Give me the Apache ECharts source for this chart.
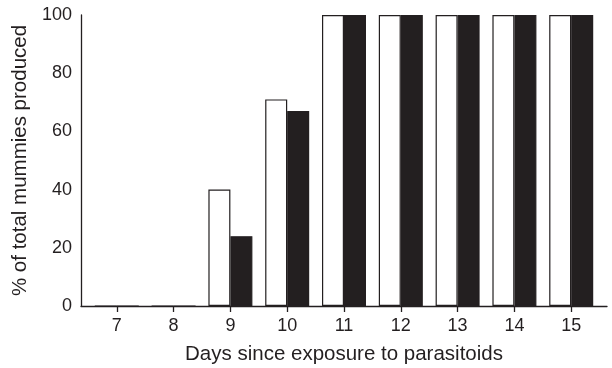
<!DOCTYPE html>
<html>
<head>
<meta charset="utf-8">
<script src="https://cdn.jsdelivr.net/npm/echarts@6/dist/echarts.min.js"></script>
<style>
  html, body { margin: 0; padding: 0; background: #fff; }
  #chart { width: 612px; height: 368px; }
</style>
</head>
<body>
<div id="chart"></div>
<script>
// days since exposure, and % of total mummies produced for the two treatments
var days = [7, 8, 9, 10, 11, 12, 13, 14, 15];
var whiteBars = [0, 0, 40, 71, 100, 100, 100, 100, 100];
var blackBars = [0, 0, 24, 67, 100, 100, 100, 100, 100];
var yTicks = [0, 20, 40, 60, 80, 100];

var font = 'Liberation Sans, Arial, sans-serif';
var ink = '#231f20';

var chart = echarts.init(document.getElementById('chart'));

var s1 = [];
var s2 = [];
for (var i = 0; i < days.length; i++) {
  s1.push([days[i], whiteBars[i]]);
  s2.push([days[i], blackBars[i]]);
}

var option = {
  animation: false,
  grid: { left: 81, right: 5, top: 15, bottom: 62, outerBoundsMode: 'none' },
  xAxis: {
    type: 'value',
    min: 6.37,
    max: 15.63,
    splitLine: { show: false },
    axisLine: { show: true, lineStyle: { color: ink, width: 1.3 } },
    axisTick: { show: true, customValues: days, length: 6, lineStyle: { color: ink, width: 1.3 } },
    axisLabel: { customValues: days, color: ink, fontSize: 18, fontFamily: font, margin: 11 },
    name: 'Days since exposure to parasitoids',
    nameLocation: 'middle',
    nameGap: 38,
    nameTextStyle: { color: ink, fontSize: 20.5, fontFamily: font }
  },
  yAxis: {
    type: 'value',
    min: 0,
    max: 100,
    interval: 20,
    splitLine: { show: false },
    axisLine: { show: true, lineStyle: { color: ink, width: 1.3 } },
    axisTick: { show: false },
    axisLabel: { color: ink, fontSize: 18, fontFamily: font, margin: 9 },
    name: '% of total mummies produced',
    nameLocation: 'middle',
    nameGap: 40,
    nameTextStyle: { color: ink, fontSize: 20.5, fontFamily: font }
  },
  series: [
    {
      type: 'bar',
      data: s1,
      barWidth: 22,
      barGap: '0%',
      itemStyle: { color: '#fff', borderColor: ink, borderWidth: 1.2 }
    },
    {
      type: 'bar',
      data: s2,
      barWidth: 22,
      barGap: '0%',
      itemStyle: { color: ink, borderColor: ink, borderWidth: 1.2 }
    }
  ]
};

chart.setOption(option);
</script>
</body>
</html>
